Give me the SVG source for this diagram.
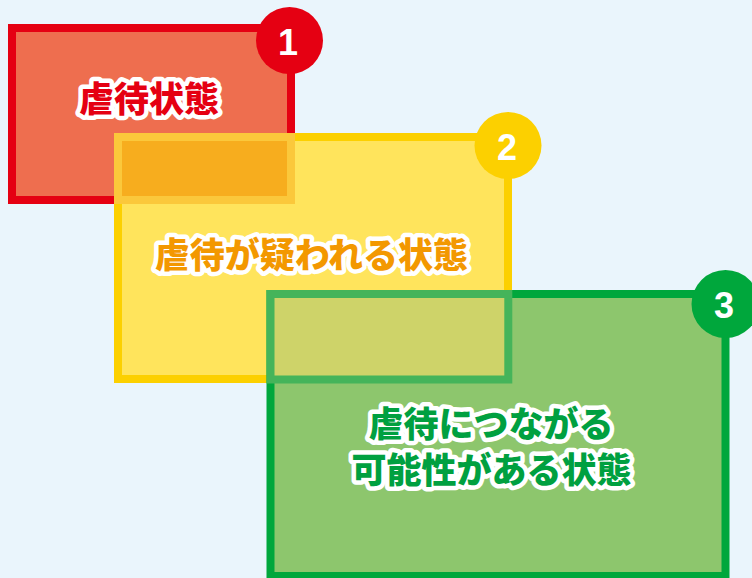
<svg xmlns="http://www.w3.org/2000/svg" width="752" height="578" viewBox="0 0 752 578">
<style>
.lbl{font-family:"Noto Sans CJK JP","Noto Sans",sans-serif;font-weight:900;font-size:35px;text-anchor:middle;dominant-baseline:central;paint-order:stroke;stroke:#ffffff;stroke-width:9;stroke-linejoin:round}
.num{font-family:"Liberation Sans",Arial,sans-serif;font-weight:bold;font-size:36px;fill:#ffffff;text-anchor:middle;dominant-baseline:central}
</style>
<rect x="0" y="0" width="752" height="578" fill="#EAF5FC"/>
<g id="node1">
<rect x="12" y="28" width="279" height="172" fill="#EE6E4F" stroke="#E50012" stroke-width="8"/>
<circle cx="289.5" cy="40.5" r="33.5" fill="#E50012"/>
<text class="num" x="288" y="42">1</text>
<text class="lbl" x="149" y="96" fill="#E50012">虐待状態</text>
</g>
<g id="node2">
<rect x="118" y="137" width="390" height="242" fill="#FFE45C" stroke="#FCD000" stroke-width="8"/>
<rect id="overlap12" x="118" y="137" width="173" height="63" fill="#F7AD1E" stroke="#FBC83B" stroke-width="8"/>
<circle cx="508" cy="145.5" r="33.5" fill="#FCD000"/>
<text class="num" x="507" y="147">2</text>
<text class="lbl" x="311.5" y="252" fill="#F39800">虐待が疑われる状態</text>
</g>
<g id="node3">
<rect x="270.5" y="294" width="455" height="282" fill="#8DC66D" stroke="#00A73C" stroke-width="8"/>
<rect id="overlap23" x="270.5" y="294" width="237.8" height="85.5" fill="#CED369" stroke="#45B45A" stroke-width="8"/>
<circle cx="725.5" cy="304" r="34" fill="#00A73C"/>
<text class="num" x="724" y="305">3</text>
<text class="lbl" x="491" y="421" fill="#00A040">虐待につながる</text>
<text class="lbl" x="491.5" y="467" fill="#00A040">可能性がある状態</text>
</g>
<g id="connectors"/>
</svg>
